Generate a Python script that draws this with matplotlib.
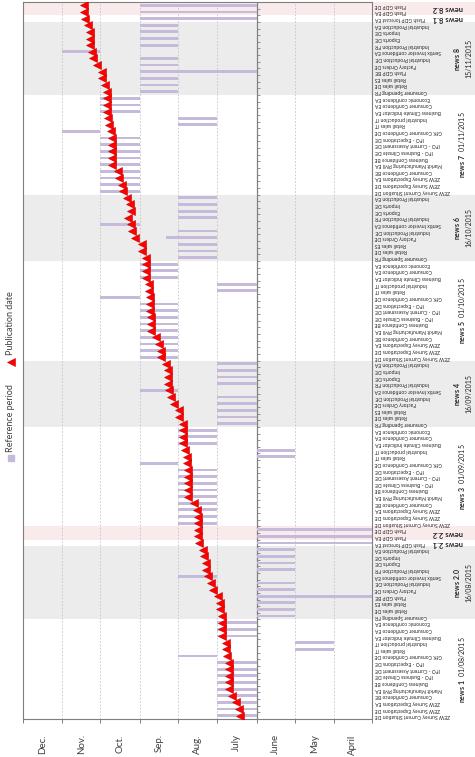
import matplotlib
matplotlib.use('Agg')
import matplotlib.pyplot as plt
import matplotlib.dates as mdates
import matplotlib.transforms as mtransforms
from matplotlib.patches import Rectangle
from matplotlib.lines import Line2D
import pandas as pd

plt.rcParams['font.family'] = ['Lato', 'DejaVu Sans']
plt.rcParams['mathtext.fontset'] = 'custom'
plt.rcParams['mathtext.rm'] = 'Lato'
plt.rcParams['mathtext.bf'] = 'Lato:bold'

YEAR = '2015-'

# indicator names, bottom to top inside each release block
survey_labels = ['ZEW Survey Current Situation DE', 'ZEW Survey Expectations DE',
                 'ZEW Survey Expectations EA', 'Consumer Confidence BE',
                 'Markit Manufacturing PMI EA', 'Business Confidence BE',
                 'IFO - Business Climate DE', 'IFO - Current Assessment DE',
                 'IFO - Expectations DE', 'GfK Consumer Confidence DE', 'Retail sales IT',
                 'Industrial production IT', 'Business Climate Indicator EA',
                 'Consumer Confidence EA', 'Economic confidence EA']
hard_labels = ['Consumer Spending FR', 'Retail sales DE', 'Retail sales ES', 'Flash GDP BE',
               'Factory Orders DE', 'Industrial Production DE', 'Sentix Investor confidence EA',
               'Industrial Production FR', 'Exports DE', 'Imports DE', 'Industrial Production EA']
hard_labels_short = [l for l in hard_labels if l != 'Flash GDP BE']
flash_forecast = ['Flash GDP forecast EA']
flash_gdp = ['Flash GDP EA', 'Flash GDP DE']

group_names = ['news 1', 'news 2.0', 'news 2.1', 'news 2.2', 'news 3', 'news 4',
               'news 5', 'news 6', 'news 7', 'news 8', 'news 8.1', 'news 8.2']
group_dates = ['01/08/2015', '16/08/2015', '', '', '01/09/2015', '16/09/2015',
               '01/10/2015', '16/10/2015', '01/11/2015', '15/11/2015', '', '']
group_items = [survey_labels, hard_labels, flash_forecast, flash_gdp,
               survey_labels, hard_labels_short, survey_labels, hard_labels_short,
               survey_labels, hard_labels, flash_forecast, flash_gdp]
group_shade = ['', 'grey', '', 'pink', '', 'grey', '', 'grey', '', 'grey', '', 'pink']

# publication date of every row (month-day, 2015)
publication = [
    '07-14', '07-15', '07-17', '07-20', '07-23', '07-23', '07-23', '07-23', '07-23', '07-24',
    '07-25', '07-25', '07-28', '07-28', '07-28',
    '07-28', '07-30', '07-30', '07-31', '08-04', '08-06', '08-08', '08-10', '08-10', '08-11', '08-12',
    '08-15',
    '08-16', '08-16',
    '08-16', '08-16', '08-17', '08-19', '08-24', '08-24', '08-24', '08-24', '08-24', '08-25',
    '08-25', '08-26', '08-28', '08-28', '08-28',
    '08-28', '08-31', '08-31', '09-04', '09-06', '09-08', '09-09', '09-09', '09-09', '09-10',
    '09-14', '09-14', '09-16', '09-18', '09-22', '09-22', '09-22', '09-23', '09-23', '09-23',
    '09-24', '09-24', '09-26', '09-26', '09-26',
    '09-26', '09-29', '09-29', '10-05', '10-07', '10-08', '10-10', '10-08', '10-09', '10-11',
    '10-14', '10-15', '10-17', '10-18', '10-23', '10-23', '10-23', '10-23', '10-23', '10-24',
    '10-25', '10-26', '10-27', '10-27', '10-27',
    '10-27', '10-28', '10-31', '10-31', '11-04', '11-07', '11-08', '11-09', '11-09', '11-09', '11-11',
    '11-13',
    '11-14', '11-14',
]

# reference period of every row: start and end (end excluded)
ref_start = [
    '07-01', '07-01', '07-01', '07-01', '07-01', '07-01', '07-01', '07-01', '07-01', '08-01',
    '05-01', '05-01', '07-01', '07-01', '07-01',
    '06-01', '06-01', '06-01', '04-01', '06-01', '06-01', '08-01', '06-01', '06-01', '06-01', '06-01',
    '04-01',
    '04-01', '04-01',
    '08-01', '08-01', '08-01', '08-01', '08-01', '08-01', '08-01', '08-01', '08-01', '09-01',
    '06-01', '06-01', '08-01', '08-01', '08-01',
    '07-01', '07-01', '07-01', '07-01', '07-01', '09-01', '07-01', '07-01', '07-01', '07-01',
    '09-01', '09-01', '09-01', '09-01', '09-01', '09-01', '09-01', '09-01', '09-01', '10-01',
    '07-01', '07-01', '09-01', '09-01', '09-01',
    '08-01', '08-01', '08-01', '08-01', '08-01', '10-01', '08-01', '08-01', '08-01', '08-01',
    '10-01', '10-01', '10-01', '10-01', '10-01', '10-01', '10-01', '10-01', '10-01', '11-01',
    '08-01', '08-01', '10-01', '10-01', '10-01',
    '09-01', '09-01', '09-01', '07-01', '09-01', '09-01', '11-01', '09-01', '09-01', '09-01', '09-01',
    '07-01',
    '07-01', '07-01',
]
ref_end = [
    '08-01', '08-01', '08-01', '08-01', '08-01', '08-01', '08-01', '08-01', '08-01', '09-01',
    '06-01', '06-01', '08-01', '08-01', '08-01',
    '07-01', '07-01', '07-01', '07-01', '07-01', '07-01', '09-01', '07-01', '07-01', '07-01', '07-01',
    '07-01',
    '07-01', '07-01',
    '09-01', '09-01', '09-01', '09-01', '09-01', '09-01', '09-01', '09-01', '09-01', '10-01',
    '07-01', '07-01', '09-01', '09-01', '09-01',
    '08-01', '08-01', '08-01', '08-01', '08-01', '10-01', '08-01', '08-01', '08-01', '08-01',
    '10-01', '10-01', '10-01', '10-01', '10-01', '10-01', '10-01', '10-01', '10-01', '11-01',
    '08-01', '08-01', '10-01', '10-01', '10-01',
    '09-01', '09-01', '09-01', '09-10', '09-01', '11-01', '09-01', '09-01', '09-01', '09-01',
    '11-01', '11-01', '11-01', '11-01', '11-01', '11-01', '11-01', '11-01', '11-01', '12-01',
    '09-01', '09-01', '11-01', '11-01', '11-01',
    '10-01', '10-01', '10-01', '10-01', '10-01', '10-01', '12-01', '10-01', '10-01', '10-01', '10-01',
    '10-01',
    '10-01', '10-01',
]

month_names = ['April', 'May', 'June', 'July', 'Aug.', 'Sep.', 'Oct.', 'Nov.', 'Dec.']

labels = [name for items in group_items for name in items]
rows = list(range(len(labels)))


def to_num(days):
    return mdates.date2num(pd.to_datetime([YEAR + d for d in days]))


pub = to_num(publication)
start = to_num(ref_start)
end = to_num(ref_end)

W, H = 475, 757
fig = plt.figure(figsize=(W / 100, H / 100), dpi=100)
ax = fig.add_axes([23 / W, 1 - 719 / H, 349 / W, 717 / H])
ax.patch.set_facecolor('none')

bar_color = '#c6badb'
tri_color = '#ff0000'

ax.barh(rows, end - start, left=start, height=0.42, color=bar_color, zorder=2)
ax.plot(pub, rows, linestyle='none', marker='<', markersize=6, color=tri_color,
        markeredgecolor='#c80000', markeredgewidth=0.4, zorder=3)

month_starts = mdates.date2num(pd.date_range('2015-04-01', '2016-01-01', freq='MS'))
month_mids = (month_starts[:-1] + month_starts[1:]) / 2
ax.set_xlim(month_starts[-1], month_starts[0])
ax.set_ylim(-0.5, len(labels) - 0.5)

ax.set_xticks(month_starts)
ax.set_xticklabels([])
ax.set_xticks(month_mids, labels=month_names, minor=True)
ax.tick_params(axis='x', which='major', length=3, color='#7f7f7f', width=0.7)
ax.tick_params(axis='x', which='minor', length=0, pad=11, labelsize=7,
               labelrotation=90, labelcolor='#404040')
ax.set_yticks([])
ax.set_axisbelow(True)
ax.grid(axis='x', which='major', color='#c4c4c4', linestyle=(0, (2, 2)), linewidth=0.6)
for s in ax.spines.values():
    s.set_color('#7f7f7f')
    s.set_linewidth(0.8)

# category axis crossing at 1 July
jul1 = mdates.date2num(pd.Timestamp('2015-07-01'))
ax.axvline(jul1, color='#808080', linewidth=0.9, zorder=1.5)
ax.hlines([r - 0.5 for r in rows] + [len(rows) - 0.5], jul1 - 2.5, jul1,
          color='#808080', linewidth=0.6, zorder=1.5)

# indicator names, upside down on the right
trans_lab = mtransforms.blended_transform_factory(ax.transAxes, ax.transData)
for r, lab in zip(rows, labels):
    ax.text(1 + 3 / 349, r, lab, transform=trans_lab, rotation=180, ha='left',
            va='center', fontsize=3.6, color='#262626')

# release blocks: shading and names
trans_band = mtransforms.blended_transform_factory(fig.transFigure, ax.transData)
shade_colors = {'grey': '#ececec', 'pink': '#f9ebeb'}
pos = 0
for name, date, items, shade in zip(group_names, group_dates, group_items, group_shade):
    n = len(items)
    if shade:
        fig.add_artist(Rectangle((23 / W, pos - 0.5), 1 - 23 / W, n, transform=trans_band,
                                 facecolor=shade_colors[shade], edgecolor='none', zorder=-1))
    centre = pos + (n - 1) / 2
    bold = r'$\mathbf{' + name.replace(' ', r'\ ') + '}$'
    if date:
        sep = '  ' if n > 12 else '\n'
        ax.text(462 / W, centre, bold + sep + date, transform=trans_band, rotation=90,
                ha='center', va='center', fontsize=5, multialignment='center',
                linespacing=1.5, color='#262626')
    else:
        ax.text(448 / W, centre, name, transform=trans_band, rotation=180, ha='center',
                va='center', fontsize=5.5, fontweight='bold', color='#262626')
    pos += n

# legend (rotated like the rest of the chart)
lx = 11 / W
fig.add_artist(Line2D([lx], [1 - 458 / H], marker='s', markersize=4, color=bar_color,
                      linestyle='none', transform=fig.transFigure))
fig.text(lx, 1 - 452 / H, 'Reference period', rotation=90, ha='center', va='bottom',
         fontsize=6.5, color='#404040')
fig.add_artist(Line2D([lx], [1 - 362 / H], marker='<', markersize=6, color=tri_color,
                      markeredgecolor='#c80000', markeredgewidth=0.4, linestyle='none',
                      transform=fig.transFigure))
fig.text(lx, 1 - 355 / H, 'Publication date', rotation=90, ha='center', va='bottom',
         fontsize=6.5, color='#404040')

fig.savefig('out.png', dpi=100)
